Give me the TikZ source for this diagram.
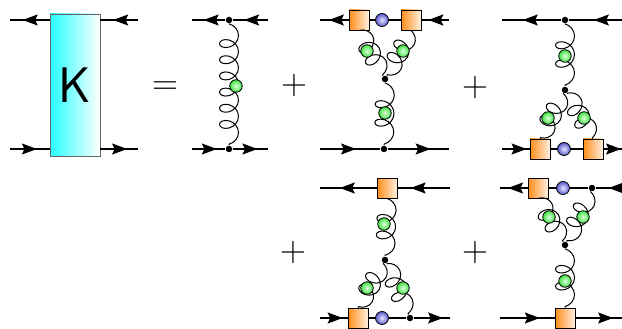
\documentclass[tikz,border=0pt]{standalone}
\usetikzlibrary{arrows.meta,decorations.pathmorphing,decorations.markings}

% coil: arc, whole loops, and an arc again into the end point
\newdimen\gluonseg
\newdimen\gluonback
\makeatletter
\def\gluon@pt#1#2#3{%
  \pgf@x=#1\pgfdecorationsegmentamplitude
  \pgf@x=\pgfdecorationsegmentaspect\pgf@x
  \pgf@y=#2\pgfdecorationsegmentamplitude
  \pgf@xa=0.083333333333\gluonseg
  \pgf@xa=#3\pgf@xa
  \advance\pgf@x by\pgf@xa}
\pgfdeclaredecoration{gluon coil}{initial}{
  \state{initial}[width=0pt,next state=loop,persistent precomputation={
      \pgfmathsetlength\gluonback{2*\pgfdecorationsegmentaspect*\pgfdecorationsegmentamplitude}
      \pgfmathsetmacro\gluonloops{max(1,round((\pgfdecoratedpathlength-\gluonback)/\pgfdecorationsegmentlength-0.5))}
      \pgfmathsetlength\gluonseg{(\pgfdecoratedpathlength-\gluonback-1pt)/(\gluonloops+0.5)}}]{}
  \state{loop}[switch if less than=\gluonseg+\gluonback to last,width=\gluonseg]{
    \pgfpathcurveto{\gluon@pt{0}{0.555}{1}}{\gluon@pt{0.445}{1}{2}}{\gluon@pt{1}{1}{3}}
    \pgfpathcurveto{\gluon@pt{1.555}{1}{4}}{\gluon@pt{2}{0.555}{5}}{\gluon@pt{2}{0}{6}}
    \pgfpathcurveto{\gluon@pt{2}{-0.555}{7}}{\gluon@pt{1.555}{-1}{8}}{\gluon@pt{1}{-1}{9}}
    \pgfpathcurveto{\gluon@pt{0.445}{-1}{10}}{\gluon@pt{0}{-0.555}{11}}{\gluon@pt{0}{0}{12}}
  }
  \state{last}[width=0.5\gluonseg+\gluonback,next state=final]{
    \pgfpathcurveto{\gluon@pt{0}{0.555}{1}}{\gluon@pt{0.445}{1}{2}}{\gluon@pt{1}{1}{3}}
    \pgfpathcurveto{\gluon@pt{1.555}{1}{4}}{\gluon@pt{2}{0.555}{5}}{\gluon@pt{2}{0}{6}}
  }
  \state{final}{\pgfpathlineto{\pgfpointdecoratedpathlast}}
}
\makeatother

\begin{document}
\begin{tikzpicture}[x=1pt,y=-1pt,line width=1.2pt,
    fermion/.style={postaction={decorate},decoration={markings,
        mark=at position #1 with {\arrow{Stealth[length=15pt,width=11pt,inset=2.5pt]}}}}]
    \tikzstyle{vertex}=[circle,fill=black,minimum size=6.5pt,inner sep=0pt]
    \tikzstyle{blob}=[circle,draw,line width=0.8pt,minimum size=12.5pt,inner sep=0pt,shading=radial,inner color=green!12,outer color=green!85!black!75]
    \tikzstyle{insert}=[circle,draw,line width=0.8pt,minimum size=13pt,inner sep=0pt,shading=radial,inner color=blue!10,outer color=blue!70!black!65]
    \tikzstyle{counter}=[rectangle,draw,line width=0.8pt,minimum size=20pt,inner sep=0pt,left color=orange!90,right color=orange!12]
    \tikzstyle{kernel}=[rectangle,draw=black!60,line width=0.8pt,minimum width=50pt,minimum height=142pt,left color=cyan!85,right color=white,font=\fontsize{50}{50}\selectfont\sffamily]
    \tikzstyle{gluon}=[line width=1pt,decorate,decoration={gluon coil,amplitude=9.5pt,segment length=16pt,aspect=0.8}]
    \tikzstyle{sign}=[font=\fontsize{36}{36}\selectfont]

    \useasboundingbox (0,0) rectangle (622,329);

    % The kernel
    \node[kernel] (K) at (75,85) {K};
    \coordinate (K-l1) at (10,20);
    \coordinate (K-r1) at (138,20);
    \coordinate (K-l2) at (10,149);
    \coordinate (K-r2) at (138,149);
    \draw[fermion=0.68] (K-l1 -| K.west) -- (K-l1);
    \draw[fermion=0.66] (K-r1) -- (K-r1 -| K.east);
    \draw[fermion=0.68] (K-l2) -- (K-l2 -| K.west);
    \draw[fermion=0.71] (K-r2 -| K.east) -- (K-r2);

    % Signs
    \node[sign] (eq) at (165,88) {=};
    \node[sign] (p1) at (294,86) {+};
    \node[sign] (p2) at (475,88) {+};
    \node[sign] (p3) at (293,253) {+};
    \node[sign] (p4) at (475,253) {+};

    % One gluon exchange
    \coordinate (a-l1) at (192,20);
    \node[vertex] (a-v1) at (229,20) {};
    \coordinate (a-r1) at (268,20);
    \coordinate (a-l2) at (192,149);
    \node[vertex] (a-v2) at (229,149) {};
    \coordinate (a-r2) at (268,149);
    \draw[fermion=0.65] (a-v1) -- (a-l1);
    \draw[fermion=0.68] (a-r1) -- (a-v1);
    \draw[fermion=0.75] (a-l2) -- (a-v2);
    \draw[fermion=0.70] (a-v2) -- (a-r2);
    \draw[gluon] (a-v1) -- (a-v2);

    % Triple gluon, counter terms on top
    \coordinate (b-l1) at (320,20);
    \node[counter] (b-s1) at (359,20) {};
    \node[insert] (b-c) at (382,20) {};
    \node[counter] (b-s2) at (411,20) {};
    \coordinate (b-r1) at (449,20);
    \node[vertex] (b-v) at (385,79) {};
    \coordinate (b-l2) at (320,149);
    \node[vertex] (b-v2) at (384,149) {};
    \coordinate (b-r2) at (449,149);
    \draw[fermion=0.69] (b-s1) -- (b-l1);
    \draw (b-s1) -- (b-c) -- (b-s2);
    \draw[fermion=0.75] (b-r1) -- (b-s2);
    \draw[fermion=0.60] (b-l2) -- (b-v2);
    \draw[fermion=0.70] (b-v2) -- (b-r2);
    \draw[gluon] (b-s1.south) -- (b-v);
    \draw[gluon] (b-s2.south) -- (b-v);
    \draw[gluon] (b-v) -- (b-v2);

    % Triple gluon, counter terms below
    \coordinate (c-l1) at (502,20);
    \node[vertex] (c-v1) at (565,20) {};
    \coordinate (c-r1) at (622,20);
    \node[vertex] (c-v2) at (565,90) {};
    \coordinate (c-l2) at (502,149);
    \node[counter] (c-s1) at (540,149) {};
    \node[insert] (c-c) at (564,149) {};
    \node[counter] (c-s2) at (593,149) {};
    \coordinate (c-r2) at (622,149);
    \draw[fermion=0.65] (c-v1) -- (c-l1);
    \draw[fermion=0.53] (c-r1) -- (c-v1);
    \draw[fermion=0.89] (c-l2) -- (c-s1);
    \draw (c-s1) -- (c-c) -- (c-s2);
    \draw[fermion=0.95] (c-s2) -- (c-r2);
    \draw[gluon] (c-v1) -- (c-v2);
    \draw[gluon] (c-v2) -- (c-s1.north);
    \draw[gluon] (c-v2) -- (c-s2.north);

    % Mixed counter terms
    \coordinate (d-l1) at (320,188);
    \node[counter] (d-s1) at (387,188) {};
    \coordinate (d-r1) at (450,188);
    \node[vertex] (d-v) at (385,260) {};
    \coordinate (d-l2) at (320,318);
    \node[counter] (d-s2) at (358,318) {};
    \node[insert] (d-c) at (382,318) {};
    \node[vertex] (d-v2) at (410,318) {};
    \coordinate (d-r2) at (450,318);
    \draw[fermion=0.65] (d-s1) -- (d-l1);
    \draw[fermion=0.75] (d-r1) -- (d-s1);
    \draw[fermion=0.82] (d-l2) -- (d-s2);
    \draw (d-s2) -- (d-c) -- (d-v2);
    \draw[fermion=0.81] (d-v2) -- (d-r2);
    \draw[gluon] (d-s1.south) -- (d-v);
    \draw[gluon] (d-v) -- (d-s2.north);
    \draw[gluon] (d-v) -- (d-v2);

    \coordinate (e-l1) at (500,188);
    \node[counter] (e-s1) at (538,188) {};
    \node[insert] (e-c) at (563,188) {};
    \node[vertex] (e-v1) at (592,188) {};
    \coordinate (e-r1) at (622,188);
    \node[vertex] (e-v) at (565,245) {};
    \coordinate (e-l2) at (500,318);
    \node[counter] (e-s2) at (565,318) {};
    \coordinate (e-r2) at (622,318);
    \draw[fermion=0.71] (e-s1) -- (e-l1);
    \draw (e-s1) -- (e-c) -- (e-v1);
    \draw[fermion=0.51] (e-r1) -- (e-v1);
    \draw[fermion=0.73] (e-l2) -- (e-s2);
    \draw[fermion=0.81] (e-s2) -- (e-r2);
    \draw[gluon] (e-s1.south) -- (e-v);
    \draw[gluon] (e-v1) -- (e-v);
    \draw[gluon] (e-v) -- (e-s2.north);

    % Self energy blobs on the gluons
    \foreach \name/\x/\y in {a-g/236/86, b-g1/367/51, b-g2/403/51, b-g3/385/113,
        c-g1/565/56, c-g2/548/118, c-g3/584/118, d-g1/384/224, d-g2/367/288,
        d-g3/403/288, e-g1/549/217, e-g2/583/217, e-g3/565/281}
        \node[blob] (\name) at (\x,\y) {};

\end{tikzpicture}
\end{document}
